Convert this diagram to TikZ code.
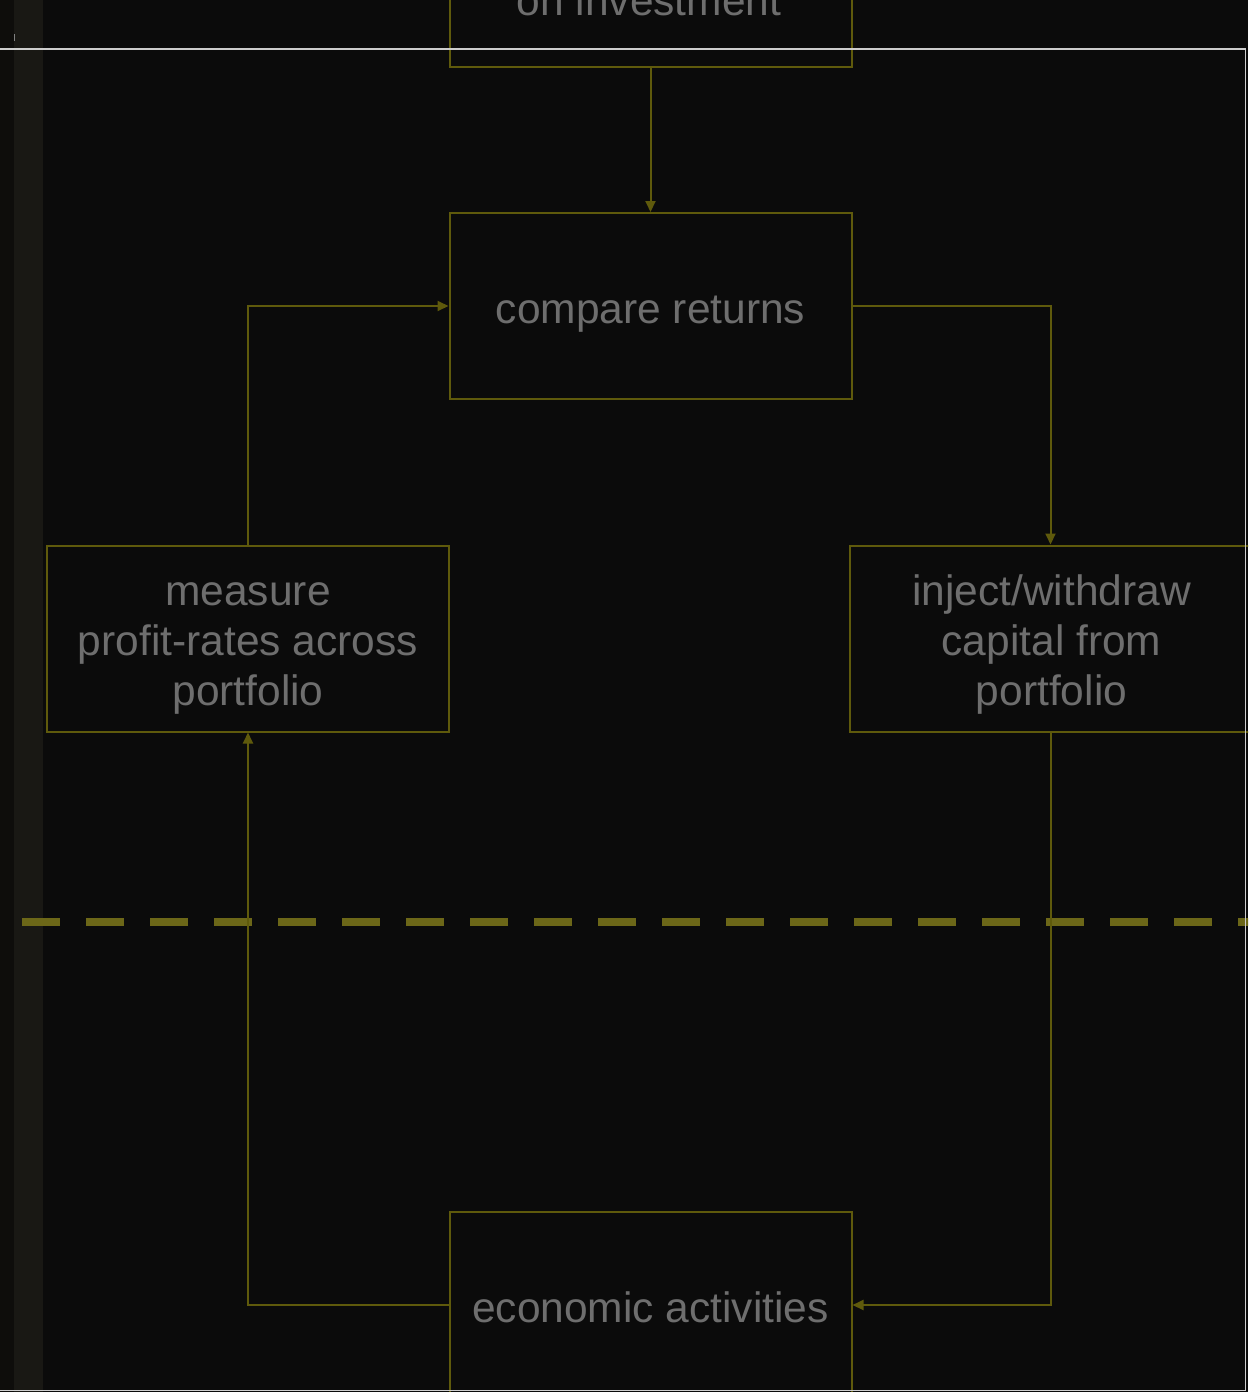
\documentclass[tikz,border=0pt]{standalone}
\usepackage{fontspec}
\setmainfont{Liberation Sans}
\usetikzlibrary{arrows.meta}
\definecolor{bg}{HTML}{0B0B0B}
\definecolor{olive}{RGB}{95,90,12}
\definecolor{dashol}{RGB}{108,103,24}
\definecolor{txt}{RGB}{110,110,110}
\definecolor{framecol}{RGB}{205,205,205}
\definecolor{stripA}{RGB}{14,13,11}
\definecolor{stripB}{RGB}{25,24,20}
\tikzset{
  box/.style={draw=olive, line width=2pt, minimum width=402pt, minimum height=186pt,
    inner sep=0pt},
  lbl/.style={text=txt, font=\fontsize{42.5}{50}\selectfont, inner sep=0pt, align=center},
  flow/.style={draw=olive, line width=2pt, -{Triangle[length=11pt,width=10pt]}},
  sep/.style={draw=dashol, line width=8pt, dash pattern=on 38pt off 26pt},
}
\begin{document}
\begin{tikzpicture}[x=1pt, y=-1pt]
  \useasboundingbox (0,0) rectangle (1248,1392);
  \clip (0,0) rectangle (1248,1392);
  \fill[bg] (0,0) rectangle (1248,1392);
  % side strip
  \fill[stripA] (0,0) rectangle (14,1392);
  \fill[stripB] (14,0) rectangle (43,1392);
  \draw[gray, line width=1pt] (14.5,34) -- (14.5,41);

  % boxes
  \node[box] (invest) at (650.5,-26) {};
  \node[box] (compare) at (650.5,306) {};
  \node[box] (measure) at (248,638.5) {};
  \node[box] (inject) at (1050.5,638.5) {};
  \node[box] (econ) at (650.5,1305) {};

  % box texts
  \node[lbl, anchor=base] (investtext) at (649,15) {on investment};
  \node[lbl, yshift=-8pt] (comparetext) at (compare.center) {compare returns};
  \node[lbl, yshift=-10pt] (measuretext) at (measure.center) {measure\\profit-rates across\\portfolio};
  \node[lbl, yshift=-6pt, xshift=1pt] (injecttext) at (inject.center) {inject/withdraw\\capital from\\portfolio};
  \node[lbl, yshift=-2pt] (econtext) at (econ.center) {economic activities};

  % separator
  \coordinate (sepL) at (22,922);
  \coordinate (sepR) at (1270,922);
  \draw[sep] (sepL) -- (sepR);

  % connectors
  \draw[flow] (invest.south) -- (compare.north);
  \draw[flow] (measure.north) |- (compare.west);
  \draw[flow] (compare.east) -| (inject.north);
  \draw[flow] (inject.south) |- (econ.east);
  \draw[flow] (econ.west) -| (measure.south);

  % outer frame
  \draw[framecol, line width=1.5pt] (0,49) -- (1245.5,49) -- (1245.5,1390.5) -- (0,1390.5);
\end{tikzpicture}
\end{document}
